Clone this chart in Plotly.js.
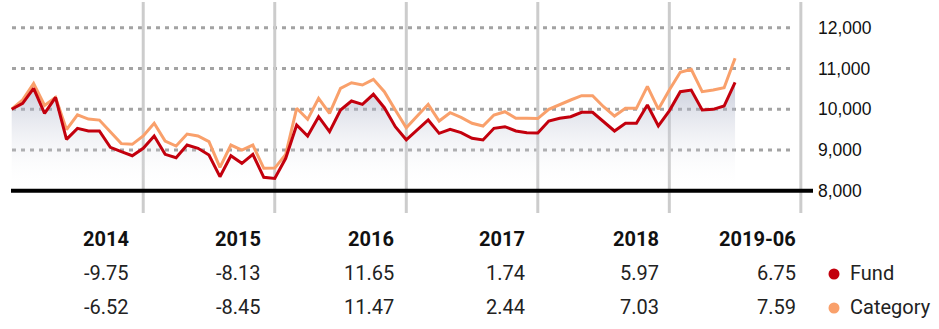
<!DOCTYPE html>
<html>
<head>
<meta charset="utf-8">
<script src="https://cdn.plot.ly/plotly-3.0.1.min.js"></script>
<style>
  html, body { margin: 0; padding: 0; background: #fff; }
  #chart { width: 939px; height: 329px; }
</style>
</head>
<body>
<div id="chart"></div>
<script>
// ---- data ----
const months = [
  "2013-12","2014-01","2014-02","2014-03","2014-04","2014-05","2014-06","2014-07","2014-08","2014-09","2014-10","2014-11",
  "2014-12","2015-01","2015-02","2015-03","2015-04","2015-05","2015-06","2015-07","2015-08","2015-09","2015-10","2015-11",
  "2015-12","2016-01","2016-02","2016-03","2016-04","2016-05","2016-06","2016-07","2016-08","2016-09","2016-10","2016-11",
  "2016-12","2017-01","2017-02","2017-03","2017-04","2017-05","2017-06","2017-07","2017-08","2017-09","2017-10","2017-11",
  "2017-12","2018-01","2018-02","2018-03","2018-04","2018-05","2018-06","2018-07","2018-08","2018-09","2018-10","2018-11",
  "2018-12","2019-01","2019-02","2019-03","2019-04","2019-05","2019-06"
];
const fund = [
  10000, 10145, 10513, 9899, 10292, 9261, 9531, 9465, 9465, 9065, 8957, 8859,
  9040, 9342, 8893, 8810, 9121, 9040, 8876, 8344, 8859, 8672, 8893, 8329,
  8300, 8795, 9612, 9342, 9816, 9448, 9980, 10201, 10120, 10366, 10037, 9571,
  9250, 9490, 9735, 9408, 9506, 9424, 9285, 9244, 9531, 9571, 9465, 9424,
  9415, 9710, 9776, 9816, 9923, 9923, 9693, 9465, 9654, 9654, 10103, 9588,
  9960, 10430, 10471, 9980, 9997, 10078, 10660
];
const category = [
  10000, 10230, 10630, 10092, 10292, 9500, 9862, 9759, 9733, 9440, 9155, 9138,
  9345, 9654, 9220, 9097, 9391, 9342, 9203, 8574, 9121, 8999, 9121, 8550,
  8555, 8893, 10022, 9752, 10267, 9899, 10513, 10650, 10594, 10733, 10430, 9980,
  9543, 9833, 10120, 9710, 9914, 9800, 9654, 9588, 9857, 9939, 9776, 9776,
  9770, 9997, 10120, 10226, 10331, 10331, 10062, 9833, 10022, 10022, 10560, 10000,
  10470, 10905, 10979, 10430, 10471, 10528, 11250
];
const yearLabels = ["2014", "2015", "2016", "2017", "2018", "2019-06"];
const fundReturns = [-9.75, -8.13, 11.65, 1.74, 5.97, 6.75];
const categoryReturns = [-6.52, -8.45, 11.47, 2.44, 7.03, 7.59];
const seriesNames = ["Fund", "Category"];
const yTicks = [8000, 9000, 10000, 11000, 12000];
const yTickText = ["8,000", "9,000", "10,000", "11,000", "12,000"];
const BASE = 8000;

// ---- styling / layout ----
const FUND_COLOR = "#c3000d";
const CAT_COLOR = "#f9a06b";
const W = 939, H = 329;
const M = { l: 11, r: 126, t: 2, b: 116 };
const plotW = W - M.l - M.r, plotH = H - M.t - M.b;
const px2paperX = px => (px - M.l) / plotW;
const px2paperY = py => (H - M.b - py) / plotH;

const idx = months.map((_, i) => i);
const fontTable = "Liberation Sans Narrow, Roboto, sans-serif";
const fontAxis = "Liberation Sans, Arial, sans-serif";
const TSIZE = 20;

const traces = [
  { x: idx, y: idx.map(() => BASE), mode: "lines", line: { width: 0 }, hoverinfo: "skip", showlegend: false },
  { x: idx, y: fund, mode: "lines", line: { width: 0 }, fill: "tonexty",
    fillgradient: { type: "vertical", start: BASE, stop: 10700,
      colorscale: [[0, "rgba(255,255,255,0)"], [1, "rgba(150,158,185,0.55)"]] },
    hoverinfo: "skip", showlegend: false },
  { x: idx, y: category, mode: "lines", name: seriesNames[1], line: { color: CAT_COLOR, width: 3, shape: "linear" }, showlegend: false },
  { x: idx, y: fund, mode: "lines", name: seriesNames[0], line: { color: FUND_COLOR, width: 3, shape: "linear" }, showlegend: false }
];

const shapes = [];
// dotted gridlines
yTicks.filter(v => v > BASE).forEach(v => {
  shapes.push({ type: "line", xref: "paper", yref: "y", x0: px2paperX(12), x1: px2paperX(795), y0: v, y1: v,
    line: { color: "#a3a3a3", width: 3, dash: "4px,5px" }, layer: "below" });
});
// year separators
yearLabels.forEach((_, i) => {
  const m = (i + 1) * 12;
  shapes.push({ type: "line", xref: "x", yref: "paper", x0: m, x1: m, y0: 0, y1: 1,
    line: { color: "#cccccc", width: 3 }, layer: "below" });
});
// baseline
shapes.push({ type: "line", xref: "paper", yref: "y", x0: 0, x1: 1, y0: BASE, y1: BASE,
  line: { color: "#000000", width: 4 }, layer: "above" });

const annotations = [];
const rightEdges = [131, 263, 396, 527, 661, 798];
const rowY = [239, 273, 307];
yearLabels.forEach((lab, i) => {
  annotations.push({ xref: "paper", yref: "paper", x: px2paperX(rightEdges[i]), y: px2paperY(rowY[0]),
    xanchor: "right", yanchor: "middle", showarrow: false, text: "<b>" + lab + "</b>",
    font: { family: fontTable, size: TSIZE, color: "#111" } });
  annotations.push({ xref: "paper", yref: "paper", x: px2paperX(rightEdges[i]), y: px2paperY(rowY[1]),
    xanchor: "right", yanchor: "middle", showarrow: false, text: fundReturns[i].toFixed(2),
    font: { family: fontTable, size: TSIZE, color: "#222" } });
  annotations.push({ xref: "paper", yref: "paper", x: px2paperX(rightEdges[i]), y: px2paperY(rowY[2]),
    xanchor: "right", yanchor: "middle", showarrow: false, text: categoryReturns[i].toFixed(2),
    font: { family: fontTable, size: TSIZE, color: "#222" } });
});
// legend entries
[[seriesNames[0], FUND_COLOR, rowY[1]], [seriesNames[1], CAT_COLOR, rowY[2]]].forEach(([name, col, py]) => {
  shapes.push({ type: "circle", xref: "paper", yref: "paper", xsizemode: "pixel", ysizemode: "pixel",
    xanchor: px2paperX(834), yanchor: px2paperY(py + 1), x0: -5.5, x1: 5.5, y0: -5.5, y1: 5.5,
    fillcolor: col, line: { width: 0 } });
  annotations.push({ xref: "paper", yref: "paper", x: px2paperX(848), y: px2paperY(py),
    xanchor: "left", yanchor: "middle", showarrow: false, text: name,
    font: { family: fontTable, size: TSIZE, color: "#222" } });
});

const layout = {
  width: W, height: H,
  margin: M,
  paper_bgcolor: "#ffffff", plot_bgcolor: "#ffffff",
  showlegend: false,
  xaxis: { range: [-0.064, 73.11], visible: false, showgrid: false, zeroline: false, fixedrange: true },
  yaxis: { range: [7453, 12631], side: "right", showgrid: false, zeroline: false, ticks: "",
    tickvals: yTicks, ticktext: yTickText, ticklabelstandoff: 4,
    tickfont: { family: fontAxis, size: 17.5, color: "#111" }, fixedrange: true },
  shapes: shapes,
  annotations: annotations
};

Plotly.newPlot("chart", traces, layout, { staticPlot: true, displayModeBar: false });
</script>
</body>
</html>
